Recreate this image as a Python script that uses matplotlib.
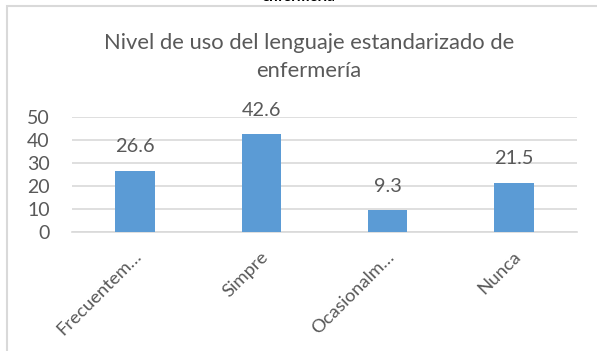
import matplotlib
matplotlib.use("Agg")
import matplotlib.pyplot as plt
from matplotlib.patches import Rectangle
from matplotlib.transforms import ScaledTranslation

plt.rcParams['font.family'] = ['Lato', 'DejaVu Sans']

categories = ["Frecuentem…", "Simpre", "Ocasionalm…", "Nunca"]
values = [26.6, 42.6, 9.3, 21.5]
y_ticks = [0, 10, 20, 30, 40, 50]

W, H = 597, 351
BAR = "#5b9bd5"
TEXT = "#595959"
GRID = "#d9d9d9"

fig = plt.figure(figsize=(W / 100, H / 100), dpi=100)

# chart frame
fig.patches.append(Rectangle((7 / W, -0.1), 1.2, 1.1 - 6 / H, transform=fig.transFigure,
                             fill=False, edgecolor=GRID, linewidth=1.5))

# caption text of the surrounding document, running off the top of the page
fig.text(298 / W, 1 - 1 / H, "enfermería", ha="center", va="baseline",
         fontsize=11, fontweight="bold", color="black")

# title
fig.text(309 / W, 1 - 49 / H, "Nivel de uso del lenguaje estandarizado de",
         ha="center", va="baseline", fontsize=15.8, color=TEXT)
fig.text(309 / W, 1 - 76.7 / H, "enfermería",
         ha="center", va="baseline", fontsize=15.8, color=TEXT)

left, right, top, bottom = 72, 577, 117.3, 231.7
ax = fig.add_axes([left / W, 1 - bottom / H, (right - left) / W, (bottom - top) / H])

x = range(len(categories))
bars = ax.bar(x, values, width=0.313, color=BAR, zorder=3)
for xi, v in zip(x, values):
    ax.annotate(f"{v}", (xi, v), xytext=(0, 13.3), textcoords="offset points",
                ha="center", va="baseline", fontsize=14.3, color=TEXT)

ax.set_xlim(-0.5, len(categories) - 0.5)
ax.set_ylim(0, 50)
ax.set_yticks(y_ticks)
ax.set_yticklabels([str(t) for t in y_ticks], fontsize=14, color=TEXT)
ax.yaxis.grid(True, color=GRID, linewidth=1.2, zorder=0)
ax.tick_params(axis="y", length=0, pad=16)
ax.tick_params(axis="x", length=0, pad=16)
for s in ("left", "right", "top"):
    ax.spines[s].set_visible(False)
ax.spines["bottom"].set_color(GRID)
ax.spines["bottom"].set_linewidth(1.2)
ax.set_facecolor("none")

ax.set_xticks(list(x))
ax.set_xticklabels(categories, fontsize=13.3, color=TEXT, rotation=45,
                   ha="right", va="center", rotation_mode="anchor")
shift = ScaledTranslation(4 / 100, 0, fig.dpi_scale_trans)
for lab in ax.get_xticklabels():
    lab.set_transform(lab.get_transform() + shift)

fig.savefig("out.png", dpi=100)
